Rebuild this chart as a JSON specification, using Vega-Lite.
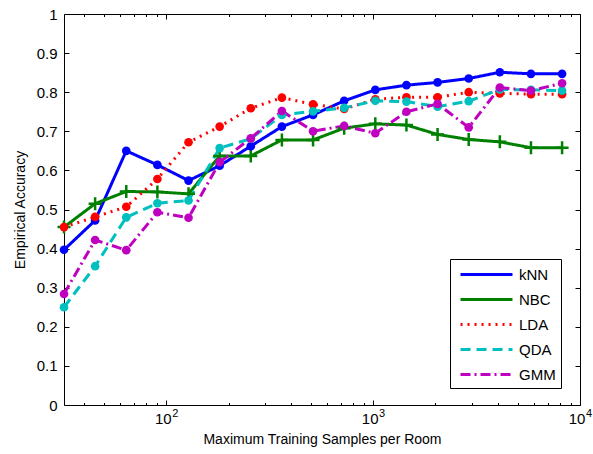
{
  "$schema": "https://vega.github.io/schema/vega-lite/v6.json",
  "width": 516,
  "height": 391,
  "autosize": "none",
  "padding": {"left": 64, "top": 14, "right": 13, "bottom": 49},
  "background": "white",
  "config": {
    "view": {"stroke": "black", "strokeWidth": 1},
    "font": "Liberation Sans",
    "axis": {"ticks": true, "tickOpacity": 1, "labelFont": "Liberation Sans", "titleFont": "Liberation Sans", "labelColor": "black", "titleColor": "black", "tickColor": "#000000", "tickWidth": 1, "titleFontWeight": "normal", "domain": false, "grid": false, "zindex": 2, "labelFlush": false, "labelOverlap": false}
  },
  "data": {"values": [
    {"m":"kNN","n":32,"a":0.397},{"m":"kNN","n":45.25,"a":0.472},{"m":"kNN","n":64,"a":0.650},{"m":"kNN","n":90.51,"a":0.614},{"m":"kNN","n":128,"a":0.574},{"m":"kNN","n":181.02,"a":0.612},{"m":"kNN","n":256,"a":0.662},{"m":"kNN","n":362.04,"a":0.712},{"m":"kNN","n":512,"a":0.742},{"m":"kNN","n":724.08,"a":0.778},{"m":"kNN","n":1024,"a":0.806},{"m":"kNN","n":1448.15,"a":0.818},{"m":"kNN","n":2048,"a":0.825},{"m":"kNN","n":2896.31,"a":0.835},{"m":"kNN","n":4096,"a":0.851},{"m":"kNN","n":5792.62,"a":0.847},{"m":"kNN","n":8192,"a":0.847},
    {"m":"NBC","n":32,"a":0.455},{"m":"NBC","n":45.25,"a":0.515},{"m":"NBC","n":64,"a":0.546},{"m":"NBC","n":90.51,"a":0.545},{"m":"NBC","n":128,"a":0.540},{"m":"NBC","n":181.02,"a":0.637},{"m":"NBC","n":256,"a":0.637},{"m":"NBC","n":362.04,"a":0.678},{"m":"NBC","n":512,"a":0.678},{"m":"NBC","n":724.08,"a":0.708},{"m":"NBC","n":1024,"a":0.719},{"m":"NBC","n":1448.15,"a":0.716},{"m":"NBC","n":2048,"a":0.692},{"m":"NBC","n":2896.31,"a":0.679},{"m":"NBC","n":4096,"a":0.673},{"m":"NBC","n":5792.62,"a":0.658},{"m":"NBC","n":8192,"a":0.658},
    {"m":"LDA","n":32,"a":0.455},{"m":"LDA","n":45.25,"a":0.481},{"m":"LDA","n":64,"a":0.507},{"m":"LDA","n":90.51,"a":0.578},{"m":"LDA","n":128,"a":0.672},{"m":"LDA","n":181.02,"a":0.712},{"m":"LDA","n":256,"a":0.759},{"m":"LDA","n":362.04,"a":0.786},{"m":"LDA","n":512,"a":0.769},{"m":"LDA","n":724.08,"a":0.757},{"m":"LDA","n":1024,"a":0.782},{"m":"LDA","n":1448.15,"a":0.787},{"m":"LDA","n":2048,"a":0.787},{"m":"LDA","n":2896.31,"a":0.800},{"m":"LDA","n":4096,"a":0.797},{"m":"LDA","n":5792.62,"a":0.795},{"m":"LDA","n":8192,"a":0.795},
    {"m":"QDA","n":32,"a":0.250},{"m":"QDA","n":45.25,"a":0.355},{"m":"QDA","n":64,"a":0.480},{"m":"QDA","n":90.51,"a":0.516},{"m":"QDA","n":128,"a":0.523},{"m":"QDA","n":181.02,"a":0.657},{"m":"QDA","n":256,"a":0.681},{"m":"QDA","n":362.04,"a":0.742},{"m":"QDA","n":512,"a":0.751},{"m":"QDA","n":724.08,"a":0.760},{"m":"QDA","n":1024,"a":0.778},{"m":"QDA","n":1448.15,"a":0.776},{"m":"QDA","n":2048,"a":0.763},{"m":"QDA","n":2896.31,"a":0.777},{"m":"QDA","n":4096,"a":0.807},{"m":"QDA","n":5792.62,"a":0.806},{"m":"QDA","n":8192,"a":0.804},
    {"m":"GMM","n":32,"a":0.284},{"m":"GMM","n":45.25,"a":0.422},{"m":"GMM","n":64,"a":0.396},{"m":"GMM","n":90.51,"a":0.493},{"m":"GMM","n":128,"a":0.479},{"m":"GMM","n":181.02,"a":0.621},{"m":"GMM","n":256,"a":0.682},{"m":"GMM","n":362.04,"a":0.752},{"m":"GMM","n":512,"a":0.700},{"m":"GMM","n":724.08,"a":0.714},{"m":"GMM","n":1024,"a":0.695},{"m":"GMM","n":1448.15,"a":0.750},{"m":"GMM","n":2048,"a":0.770},{"m":"GMM","n":2896.31,"a":0.710},{"m":"GMM","n":4096,"a":0.812},{"m":"GMM","n":5792.62,"a":0.804},{"m":"GMM","n":8192,"a":0.823}
  ]},
  "resolve": {"axis": {"x": "independent", "y": "independent"}},
  "layer": [
    {
      "mark": {"type": "line", "strokeCap": "butt", "clip": true},
      "encoding": {
        "x": {"field": "n", "type": "quantitative",
          "scale": {"type": "log", "domain": [32, 10000], "nice": false},
          "axis": {"orient": "bottom", "title": "Maximum Training Samples per Room", "titleFontSize": 14, "titlePadding": 6,
            "values": [100, 1000, 10000], "labelExpr": "'10'", "labelOffset": -3.5,
            "labelFontSize": 15, "labelPadding": 6, "offset": -5, "ticks": true, "tickSize": 5}},
        "y": {"field": "a", "type": "quantitative",
          "scale": {"domain": [0, 1], "nice": false},
          "axis": {"orient": "left", "title": "Empirical Accuracy", "titleFontSize": 14, "titlePadding": 9,
            "values": [0,0.1,0.2,0.3,0.4,0.5,0.6,0.7,0.8,0.9,1], "format": ".1~f",
            "labelFontSize": 15, "labelPadding": 7, "offset": -5, "ticks": true, "tickSize": 5}},
        "color": {"field": "m", "type": "nominal",
          "scale": {"domain": ["kNN","NBC","LDA","QDA","GMM"], "range": ["#0000FF","#008000","#FF0000","#00BFBF","#BF00BF"]},
          "legend": {"title": null, "orient": "none", "legendX": 386, "legendY": 245, "symbolType": "M-3,0H3", "symbolSize": 300,
            "symbolOffset": 21, "labelFontSize": 15, "labelFont": "Liberation Sans", "labelColor": "black", "padding": 5, "strokeColor": "black", "fillColor": "white",
            "rowPadding": 6, "labelOffset": 22, "symbolStrokeWidth": 3, "cornerRadius": 0}},
        "strokeDash": {"field": "m", "type": "nominal",
          "scale": {"domain": ["kNN","NBC","LDA","QDA","GMM"], "range": [[1,0],[1,0],[2,5],[10,6],[10,4,2,4]]},
          "legend": {"title": null}},
        "strokeWidth": {"field": "m", "type": "nominal",
          "scale": {"domain": ["kNN","NBC","LDA","QDA","GMM"], "range": [3,3,1.5,3,3]},
          "legend": {"title": null}}
      }
    },
    {
      "transform": [{"filter": "datum.m == 'NBC'"}],
      "mark": {"type": "point", "shape": "M-1,0H1M0,-1V1", "filled": false, "opacity": 1, "size": 169, "strokeWidth": 2.5, "clip": false},
      "encoding": {
        "x": {"field": "n", "type": "quantitative",
          "axis": {"orient": "bottom", "title": null, "offset": -2.5, "ticks": true, "tickSize": 2.5,
            "values": [40,50,60,70,80,90,100,200,300,400,500,600,700,800,900,1000,2000,3000,4000,5000,6000,7000,8000,9000,10000],
            "labelExpr": "datum.value == 100 ? '2' : datum.value == 1000 ? '3' : datum.value == 10000 ? '4' : ''",
            "labelFontSize": 11, "labelOffset": 8.5, "labelPadding": 2}},
        "y": {"field": "a", "type": "quantitative",
          "axis": {"orient": "right", "title": null, "labels": false, "values": [0,0.1,0.2,0.3,0.4,0.5,0.6,0.7,0.8,0.9,1], "offset": -5, "ticks": true, "tickSize": 5}},
        "color": {"field": "m", "type": "nominal", "legend": null}
      }
    },
    {
      "transform": [{"filter": "datum.m == 'kNN' || datum.m == 'LDA'"}],
      "mark": {"type": "point", "shape": "circle", "filled": true, "opacity": 1, "size": 75, "clip": false},
      "encoding": {
        "x": {"field": "n", "type": "quantitative",
          "axis": {"orient": "top", "title": null, "labels": false, "values": [100, 1000, 10000], "offset": -5, "ticks": true, "tickSize": 5}},
        "y": {"field": "a", "type": "quantitative", "axis": null},
        "color": {"field": "m", "type": "nominal", "legend": null}
      }
    },
    {
      "transform": [{"filter": "datum.m == 'QDA' || datum.m == 'GMM'"}],
      "mark": {"type": "point", "shape": "circle", "filled": true, "opacity": 1, "size": 75, "clip": false},
      "encoding": {
        "x": {"field": "n", "type": "quantitative",
          "axis": {"orient": "top", "title": null, "labels": false, "offset": -2.5, "ticks": true, "tickSize": 2.5,
            "values": [40,50,60,70,80,90,200,300,400,500,600,700,800,900,2000,3000,4000,5000,6000,7000,8000,9000]}},
        "y": {"field": "a", "type": "quantitative", "axis": null},
        "color": {"field": "m", "type": "nominal", "legend": null}
      }
    }
  ]
}
